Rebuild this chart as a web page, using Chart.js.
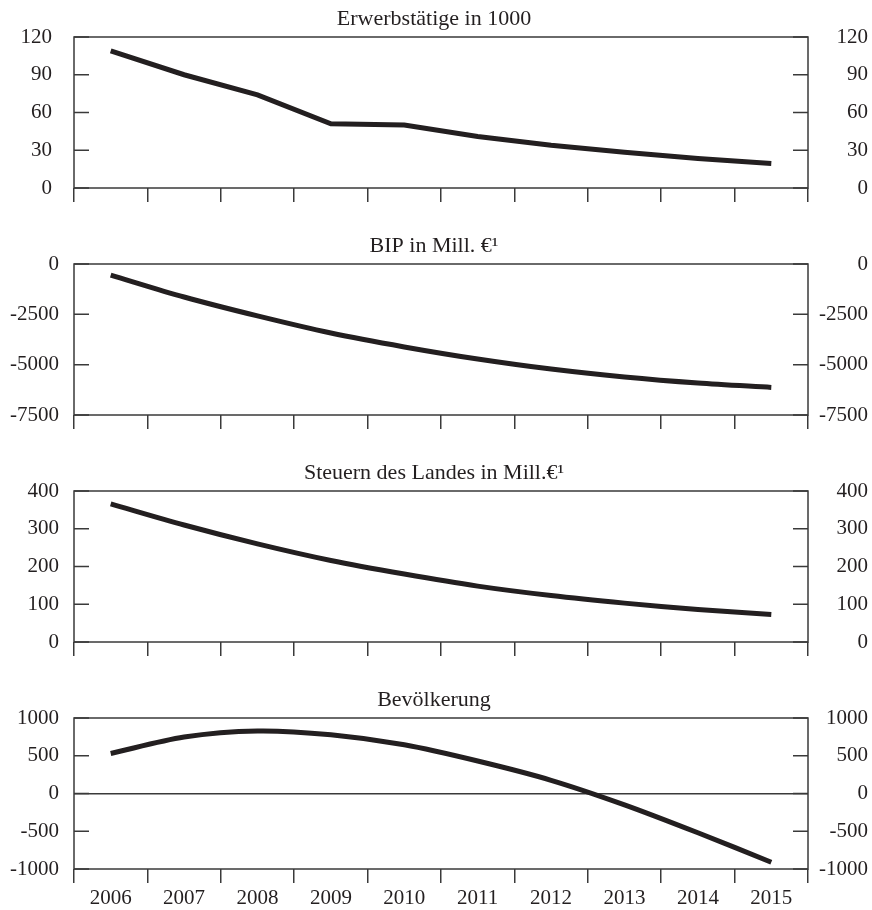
<!DOCTYPE html>
<html>
<head>
<meta charset="utf-8">
<script src="https://cdn.jsdelivr.net/npm/chart.js@4/dist/chart.umd.min.js"></script>
<style>
  body { margin: 0; background: #fff; }
  #wrap { position: relative; width: 872px; height: 910px; }
  canvas { position: absolute; left: 0; }
</style>
</head>
<body>
<div id="wrap">
  <canvas id="c0" width="872" height="227" style="top:0px"></canvas>
  <canvas id="c1" width="872" height="227" style="top:227px"></canvas>
  <canvas id="c2" width="872" height="227" style="top:454px"></canvas>
  <canvas id="c3" width="872" height="229" style="top:681px"></canvas>
</div>
<script>
const years = ['2006', '2007', '2008', '2009', '2010', '2011', '2012', '2013', '2014', '2015'];

const titles = [
  'Erwerbstätige in 1000',
  'BIP in Mill. €¹',
  'Steuern des Landes in Mill.€¹',
  'Bevölkerung'
];

const erwerbstaetige = [109, 90, 74, 51, 50, 41, 34, 28.5, 23.5, 19.5];
const bip = [-550, -1640, -2580, -3430, -4120, -4720, -5220, -5610, -5910, -6130];
const steuern = [366, 310, 260, 216, 180, 148, 123, 103, 86, 73];
const bevoelkerung = [530, 748, 828, 778, 645, 430, 175, -150, -520, -910];

const yMin = [0, -7500, 0, -1000];
const yMax = [120, 0, 400, 1000];
const yStep = [30, 2500, 100, 500];

const INK = '#231f20';
const LINE = '#3a3a3a';
const FONT = {family: "'Liberation Serif', 'Times New Roman', serif", size: 21, weight: 'normal'};
const TITLE_FONT = {family: "'Liberation Serif', 'Times New Roman', serif", size: 22, weight: 'normal'};

// box around the plot + short tick marks pointing inwards on both y axes
const frame = {
  id: 'frame',
  afterDraw(chart) {
    const {ctx, chartArea: a} = chart;
    ctx.save();
    ctx.strokeStyle = LINE;
    ctx.lineWidth = 1.5;
    ctx.beginPath();
    chart.scales.y.ticks.forEach(t => {
      const py = chart.scales.y.getPixelForValue(t.value);
      ctx.moveTo(a.left, py);
      ctx.lineTo(a.left + 15, py);
    });
    chart.scales.y2.ticks.forEach(t => {
      const py = chart.scales.y2.getPixelForValue(t.value);
      ctx.moveTo(a.right - 15, py);
      ctx.lineTo(a.right, py);
    });
    ctx.stroke();
    ctx.strokeRect(a.left, a.top, a.right - a.left, a.bottom - a.top);
    ctx.restore();
  }
};

function plain(v) {
  return String(v);
}

function panel(i, data) {
  const last = i === 3;
  const ctx = document.getElementById('c' + i).getContext('2d');
  return new Chart(ctx, {
    type: 'line',
    data: {
      labels: years,
      datasets: [{
        data,
        yAxisID: 'y',
        borderColor: INK,
        borderWidth: 5,
        borderCapStyle: 'butt',
        pointRadius: 0,
        tension: i === 0 ? 0 : 0.3,
        fill: false
      }]
    },
    options: {
      responsive: false,
      animation: false,
      layout: {padding: {right: 4}},
      plugins: {
        legend: {display: false},
        tooltip: {enabled: false},
        title: {
          display: true,
          text: titles[i],
          color: INK,
          font: TITLE_FONT,
          padding: {top: 6, bottom: 4.6}
        }
      },
      scales: {
        x: {
          offset: true,
          border: {display: false},
          grid: {offset: true, drawOnChartArea: false, drawTicks: true, tickLength: 14, color: LINE, lineWidth: 1.5},
          ticks: {display: last, color: INK, font: FONT, padding: 3, maxRotation: 0, autoSkip: false},
          afterFit: s => { s.height = last ? 41 : 39; }
        },
        y: {
          position: 'left',
          min: yMin[i],
          max: yMax[i],
          border: {display: false},
          grid: {
            drawTicks: false,
            lineWidth: 1.5,
            color: c => (last && c.tick && c.tick.value === 0) ? LINE : 'rgba(0,0,0,0)'
          },
          ticks: {stepSize: yStep[i], color: INK, font: FONT, padding: i === 0 ? 22 : 15, autoSkip: false, callback: plain},
          afterFit: s => { s.width = 74; }
        },
        y2: {
          position: 'right',
          min: yMin[i],
          max: yMax[i],
          border: {display: false},
          grid: {drawTicks: false, drawOnChartArea: false},
          ticks: {stepSize: yStep[i], color: INK, font: FONT, crossAlign: 'far', autoSkip: false, callback: plain},
          afterFit: s => { s.width = 60; }
        }
      }
    },
    plugins: [frame]
  });
}

panel(0, erwerbstaetige);
panel(1, bip);
panel(2, steuern);
panel(3, bevoelkerung);
</script>
</body>
</html>
